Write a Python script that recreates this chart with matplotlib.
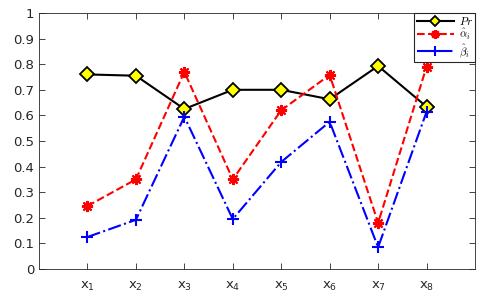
import numpy as np
import matplotlib.pyplot as plt

plt.rcParams['mathtext.fontset'] = 'cm'

x = np.arange(1, 9)
labels = ['$\\mathregular{x_%d}$' % i for i in x]
pr = [0.76, 0.755, 0.625, 0.70, 0.70, 0.663, 0.793, 0.634]
alpha = [0.246, 0.35, 0.77, 0.35, 0.62, 0.758, 0.18, 0.79]
beta = [0.125, 0.192, 0.595, 0.195, 0.418, 0.575, 0.085, 0.614]

fig = plt.figure(figsize=(4.89, 3.06), dpi=100)
ax = fig.add_axes([39/489, 1 - 269/306, 436/489, 256/306])

ax.plot(x, pr, '-', color='black', lw=1.5, marker='D', ms=7,
        mfc='yellow', mec='black', mew=1.3, label='$Pr$')
ax.plot(x, alpha, '--', color='red', lw=1.5, marker=(8, 2, 0), ms=8,
        mew=1.5, label='$\\hat{\\alpha}_i$')
ax.plot(x, beta, '-.', color='blue', lw=1.5, marker='+', ms=9,
        mew=1.5, label='$\\hat{\\beta}_i$')

ax.set_xlim(0, 9)
ax.set_ylim(0, 1)
ax.set_xticks(x)
ax.set_xticklabels(labels)
ax.set_yticks(np.arange(0, 1.01, 0.1))
ax.set_yticklabels(['0', '0.1', '0.2', '0.3', '0.4', '0.5', '0.6', '0.7', '0.8', '0.9', '1'])
ax.tick_params(direction='in', top=True, right=True, labelsize=9.5,
               colors='#262626', length=4, width=0.6)
ax.tick_params(axis='x', pad=8)
for s in ax.spines.values():
    s.set_color('#262626')
    s.set_linewidth(0.6)

leg = ax.legend(loc='upper right', fontsize=8, handlelength=3.4,
                borderaxespad=0, frameon=True, fancybox=False, framealpha=1,
                edgecolor='#262626', borderpad=0.2, labelspacing=0.0,
                handletextpad=0.4, markerscale=0.8)
leg.get_frame().set_linewidth(0.8)

fig.savefig('out.png', dpi=100)
